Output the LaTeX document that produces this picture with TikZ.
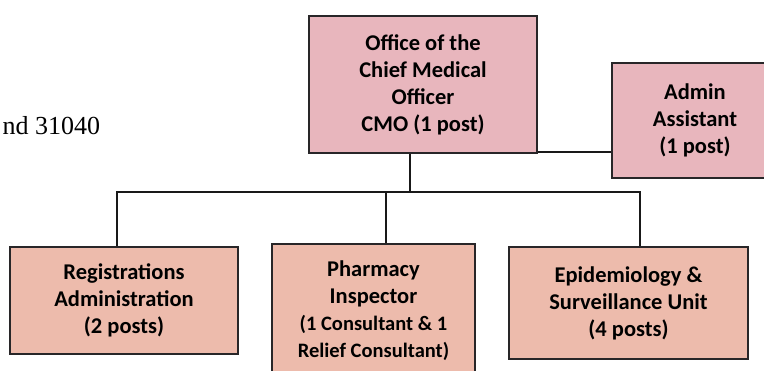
\documentclass[tikz,border=0pt]{standalone}
\usepackage{fontspec}
\setmainfont{Carlito}
\newfontfamily\letterfont{Liberation Serif}
\definecolor{cmopink}{RGB}{232,182,189}
\definecolor{unitpeach}{RGB}{237,187,172}
\definecolor{boxline}{RGB}{40,38,40}

\tikzset{
	orgbox/.style={draw=boxline, line width=2.4pt, align=center, inner sep=0pt,
		font=\bfseries\fontsize{22.5}{27}\selectfont, text=black},
	headbox/.style={orgbox, fill=cmopink},
	unitbox/.style={orgbox, fill=unitpeach},
	link/.style={draw=black!90, line width=1.8pt}
}

\begin{document}
\begin{tikzpicture}[x=1pt, y=1pt]
\useasboundingbox (0,0) rectangle (764,371);
\clip (0,0) rectangle (764,371);

\pgfmathsetmacro{\busY}{179}

\node[anchor=base west, font=\letterfont\fontsize{26}{30}\selectfont] (letter) at (-1,236) {nd 31040};

\node[headbox, minimum width=228pt, minimum height=137pt] (cmo) at (423,286.5)
	{Office of the\\Chief Medical\\Officer\\CMO (1 post)};
\node[headbox, minimum width=166pt, minimum height=115pt] (admin) at (695,250.5)
	{Admin\\Assistant\\(1 post)};

\node[unitbox, minimum width=228pt, minimum height=107pt] (reg) at (124,70.5)
	{Registrations\\Administration\\(2 posts)};
\node[unitbox, minimum width=203pt, minimum height=134pt] (pharm) at (373.5,60)
	{Pharmacy\\Inspector\\{\fontsize{20.5}{25}\selectfont(1 Consultant \& 1}\\{\fontsize{20.5}{25}\selectfont Relief Consultant)}};
\node[unitbox, minimum width=239pt, minimum height=112pt] (epi) at (628.5,68)
	{Epidemiology \&\\Surveillance Unit\\(4 posts)};

\coordinate (busL) at (117,\busY);
\coordinate (busM) at (410,\busY);
\coordinate (busP) at (386,\busY);
\coordinate (busR) at (640,\busY);
\coordinate (adminTap) at ([yshift=2pt]cmo.south east);

\draw[link] (cmo.south -| busM) -- (busM);
\draw[link] (reg.north -| busL) -- (busL) -- (busR) -- (epi.north -| busR);
\draw[link] (busP) -- (pharm.north -| busP);
\draw[link] (adminTap) -- (admin.west |- adminTap);
\end{tikzpicture}
\end{document}
